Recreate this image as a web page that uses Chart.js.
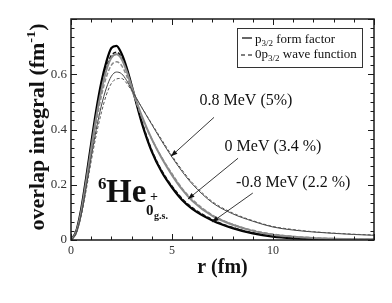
<!DOCTYPE html>
<html>
<head>
<meta charset="utf-8">
<script src="https://cdn.jsdelivr.net/npm/chart.js@4/dist/chart.umd.min.js"></script>
<style>
  html, body { margin: 0; background: #fff; }
  canvas { display: block; }
</style>
</head>
<body>
<canvas id="overlapChart" width="392" height="303"></canvas>
<script>
// radius grid (fm)
const rValues = [0, 0.25, 0.5, 0.75, 1, 1.25, 1.5, 1.75, 2, 2.25, 2.5, 2.75, 3, 3.5, 4, 4.5, 5, 5.5, 6, 7, 8, 9, 10, 11, 12, 13, 14, 15];

// -0.8 MeV (2.2 %)
const formM08 = [0, 0.03, 0.11, 0.225, 0.35, 0.47, 0.57, 0.645, 0.695, 0.703, 0.675, 0.625, 0.56, 0.425, 0.32, 0.245, 0.19, 0.145, 0.113, 0.071, 0.043, 0.024, 0.012, 0.006, 0.003, 0.0015, 0.0008, 0.0004];
const waveM08 = [0, 0.028, 0.105, 0.215, 0.335, 0.45, 0.55, 0.625, 0.668, 0.68, 0.662, 0.615, 0.555, 0.43, 0.325, 0.25, 0.195, 0.15, 0.117, 0.074, 0.045, 0.026, 0.014, 0.007, 0.0035, 0.002, 0.001, 0.0005];
// 0 MeV (3.4 %)
const form0 = [0, 0.027, 0.1, 0.21, 0.33, 0.445, 0.54, 0.615, 0.66, 0.672, 0.655, 0.612, 0.556, 0.45, 0.365, 0.295, 0.235, 0.183, 0.142, 0.087, 0.055, 0.033, 0.019, 0.012, 0.007, 0.0045, 0.003, 0.002];
const wave0 = [0, 0.025, 0.095, 0.2, 0.315, 0.425, 0.52, 0.59, 0.633, 0.645, 0.632, 0.595, 0.545, 0.445, 0.365, 0.298, 0.24, 0.187, 0.147, 0.09, 0.057, 0.035, 0.021, 0.013, 0.008, 0.005, 0.0035, 0.0025];
// 0.8 MeV (5%)
const formP08 = [0, 0.024, 0.09, 0.19, 0.3, 0.4, 0.485, 0.55, 0.593, 0.608, 0.602, 0.578, 0.545, 0.48, 0.418, 0.357, 0.3, 0.248, 0.203, 0.135, 0.095, 0.068, 0.047, 0.036, 0.029, 0.024, 0.02, 0.017];
const waveP08 = [0, 0.022, 0.085, 0.18, 0.285, 0.38, 0.46, 0.525, 0.567, 0.583, 0.585, 0.568, 0.54, 0.48, 0.421, 0.362, 0.305, 0.253, 0.208, 0.139, 0.098, 0.07, 0.049, 0.038, 0.03, 0.025, 0.021, 0.018];

// x ticks and y ticks
const xLabelTicks = [0, 5, 10];
const yLabelTicks = [0, 0.2, 0.4, 0.6];

// labels with arrows: text position and arrow (from -> to), in data units
const energyLabels = [
  { text: "0.8 MeV (5%)", r: 8.66, v: 0.505, from: [7.08, 0.444], to: [4.95, 0.303] },
  { text: "0 MeV (3.4 %)", r: 10.0, v: 0.339, from: [8.27, 0.296], to: [5.79, 0.148] },
  { text: "-0.8 MeV (2.2 %)", r: 11.0, v: 0.206, from: [9.0, 0.17], to: [6.98, 0.065] }
];

const SERIF = "'Liberation Serif', 'DejaVu Serif', serif";

function toPoints(arr) {
  return rValues.map((r, i) => ({ x: r, y: arr[i] }));
}

function line(data, color, width, dash) {
  return {
    data: toPoints(data),
    borderColor: color,
    borderWidth: width,
    borderDash: dash || [],
    pointRadius: 0,
    fill: false,
    cubicInterpolationMode: "monotone"
  };
}

// draw runs of text with sub/superscripts
function drawRuns(ctx, runs, x, y) {
  let cx = x;
  runs.forEach((run) => {
    ctx.font = run.font;
    ctx.fillText(run.t, cx, y + (run.dy || 0));
    cx += ctx.measureText(run.t).width;
  });
  return cx;
}
function runsWidth(ctx, runs) {
  let w = 0;
  runs.forEach((run) => { ctx.font = run.font; w += ctx.measureText(run.t).width; });
  return w;
}

const decorPlugin = {
  id: "decor",
  afterDraw(chart) {
    const ctx = chart.ctx;
    const a = chart.chartArea;
    const xs = chart.scales.x;
    const ys = chart.scales.y;
    ctx.save();

    // frame
    ctx.strokeStyle = "#1a1a1a";
    ctx.lineWidth = 1.5;
    ctx.strokeRect(a.left, a.top, a.right - a.left, a.bottom - a.top);

    // inward ticks on all four sides
    ctx.lineWidth = 1;
    ctx.beginPath();
    for (let i = 0; i <= 15; i++) {
      const px = Math.round(xs.getPixelForValue(i)) + 0.5;
      const len = i % 5 === 0 ? 6 : 3.5;
      ctx.moveTo(px, a.bottom); ctx.lineTo(px, a.bottom - len);
      ctx.moveTo(px, a.top); ctx.lineTo(px, a.top + len);
    }
    for (let k = 0; k <= 24; k++) {
      const py = Math.round(ys.getPixelForValue(k / 30)) + 0.5;
      const len = k % 6 === 0 ? 6 : 3.5;
      ctx.moveTo(a.left, py); ctx.lineTo(a.left + len, py);
      ctx.moveTo(a.right, py); ctx.lineTo(a.right - len, py);
    }
    ctx.stroke();

    // legend
    ctx.fillStyle = "#111";
    ctx.strokeStyle = "#333";
    ctx.lineWidth = 1;
    ctx.strokeRect(237.5, 28.5, 125, 39);
    ctx.strokeStyle = "#000";
    ctx.lineWidth = 1.2;
    ctx.beginPath(); ctx.moveTo(242, 38); ctx.lineTo(252, 38); ctx.stroke();
    ctx.setLineDash([4, 3]);
    ctx.beginPath(); ctx.moveTo(241, 55); ctx.lineTo(253, 55); ctx.stroke();
    ctx.setLineDash([]);
    ctx.textBaseline = "alphabetic";
    ctx.textAlign = "left";
    const f13 = "13px " + SERIF, f9 = "9px " + SERIF;
    drawRuns(ctx, [{ t: "p", font: f13 }, { t: "3/2", font: f9, dy: 3 }, { t: " form factor", font: f13 }], 255, 43);
    drawRuns(ctx, [{ t: "0p", font: f13 }, { t: "3/2", font: f9, dy: 3 }, { t: " wave function", font: f13 }], 255, 58);

    // energy labels with arrows
    ctx.font = "16px " + SERIF;
    ctx.textAlign = "center";
    ctx.textBaseline = "middle";
    energyLabels.forEach((lab) => {
      ctx.fillText(lab.text, xs.getPixelForValue(lab.r), ys.getPixelForValue(lab.v));
      const x1 = xs.getPixelForValue(lab.from[0]), y1 = ys.getPixelForValue(lab.from[1]);
      const x2 = xs.getPixelForValue(lab.to[0]), y2 = ys.getPixelForValue(lab.to[1]);
      ctx.strokeStyle = "#222";
      ctx.lineWidth = 0.9;
      ctx.beginPath(); ctx.moveTo(x1, y1); ctx.lineTo(x2, y2); ctx.stroke();
      const ang = Math.atan2(y2 - y1, x2 - x1);
      ctx.fillStyle = "#111";
      ctx.beginPath();
      ctx.moveTo(x2, y2);
      ctx.lineTo(x2 - 7 * Math.cos(ang - 0.35), y2 - 7 * Math.sin(ang - 0.35));
      ctx.lineTo(x2 - 7 * Math.cos(ang + 0.35), y2 - 7 * Math.sin(ang + 0.35));
      ctx.closePath();
      ctx.fill();
    });

    // nucleus label
    ctx.textAlign = "left";
    ctx.textBaseline = "alphabetic";
    ctx.fillStyle = "#111";
    ctx.font = "bold 17px " + SERIF;
    ctx.fillText("6", 98, 189);
    ctx.font = "bold 33px " + SERIF;
    ctx.fillText("He", 106, 202);
    ctx.font = "bold 14px " + SERIF;
    ctx.fillText("+", 150, 201);
    ctx.font = "bold 15px " + SERIF;
    ctx.fillText("0", 146, 215);
    ctx.font = "bold 10px " + SERIF;
    ctx.fillText("g.s.", 154, 219);

    // x axis title
    ctx.font = "bold 20px " + SERIF;
    ctx.textAlign = "center";
    ctx.textBaseline = "middle";
    ctx.fillText("r (fm)", (a.left + a.right) / 2, 268);

    // y axis title (rotated, with superscript)
    const yRuns = [
      { t: "overlap integral (fm", font: "bold 20px " + SERIF },
      { t: "-1", font: "bold 13px " + SERIF, dy: -7 },
      { t: ")", font: "bold 20px " + SERIF }
    ];
    ctx.save();
    ctx.translate(39, 127);
    ctx.rotate(-Math.PI / 2);
    const w = runsWidth(ctx, yRuns);
    const k = 207 / w;
    ctx.scale(k, 1);
    ctx.textAlign = "left";
    drawRuns(ctx, yRuns, -w / 2, 0);
    ctx.restore();

    ctx.restore();
  }
};

new Chart(document.getElementById("overlapChart"), {
  type: "line",
  data: {
    datasets: [
      line(waveP08, "#555", 1, [3, 2]),
      line(formP08, "#444", 1),
      line(wave0, "#8a8a8a", 1.5, [4, 2]),
      line(form0, "#8a8a8a", 2),
      line(waveM08, "#111", 1.5, [4, 2]),
      line(formM08, "#000", 2.2)
    ]
  },
  options: {
    responsive: false,
    animation: false,
    layout: { padding: { top: 19, right: 18, left: 0, bottom: 0 } },
    plugins: { legend: { display: false }, tooltip: { enabled: false } },
    scales: {
      x: {
        type: "linear",
        min: 0,
        max: 15,
        afterBuildTicks: (s) => { s.ticks = xLabelTicks.map((v) => ({ value: v })); },
        ticks: {
          font: { family: SERIF, size: 12 },
          color: "#333",
          padding: 4,
          maxRotation: 0,
          callback: (v) => String(v)
        },
        grid: { display: false, drawTicks: false },
        border: { display: false },
        afterFit: (s) => { s.height = 63; }
      },
      y: {
        min: 0,
        max: 0.8,
        afterBuildTicks: (s) => { s.ticks = yLabelTicks.map((v) => ({ value: v })); },
        ticks: {
          font: { family: SERIF, size: 13 },
          color: "#333",
          padding: 4,
          callback: (v) => (v === 0 ? "0" : v.toFixed(1))
        },
        grid: { display: false, drawTicks: false },
        border: { display: false },
        afterFit: (s) => { s.width = 71; }
      }
    }
  },
  plugins: [decorPlugin]
});
</script>
</body>
</html>
